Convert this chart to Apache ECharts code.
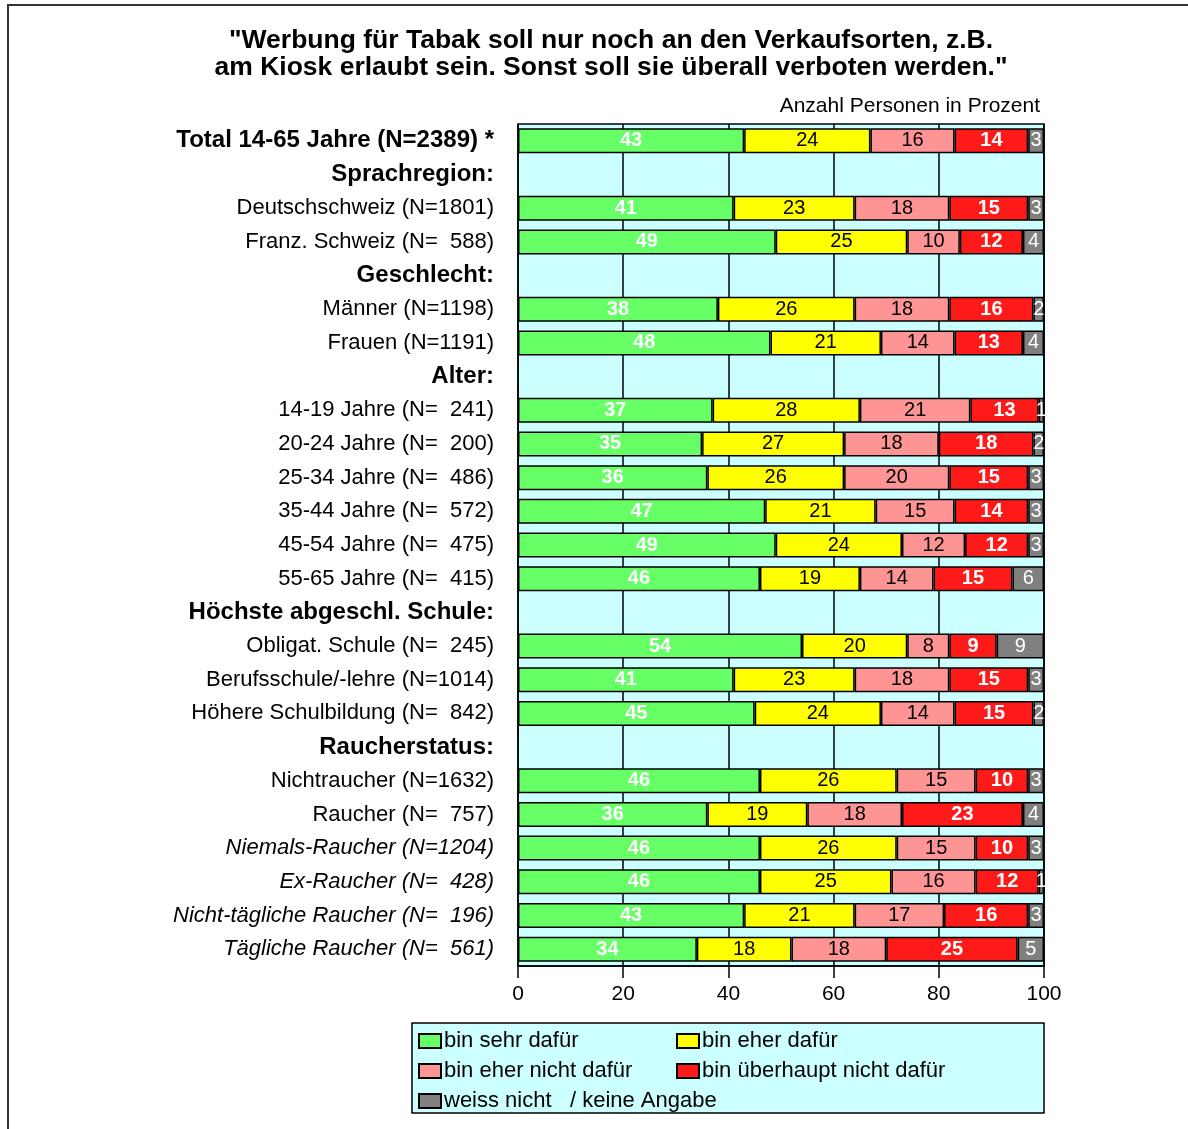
<!DOCTYPE html>
<html>
<head>
<meta charset="utf-8">
<script src="https://cdn.jsdelivr.net/npm/echarts@6/dist/echarts.min.js"></script>
<style>
html,body{margin:0;padding:0;background:#fff;}
#chart{width:1188px;height:1129px;}
</style>
</head>
<body>
<div id="chart"></div>
<script>
// Categories (type: 'b' bold/header, 'n' normal, 'i' italic)
const categories = [
  "Total 14-65 Jahre (N=2389) *",
  "Sprachregion:",
  "Deutschschweiz (N=1801)",
  "Franz. Schweiz (N=  588)",
  "Geschlecht:",
  "Männer (N=1198)",
  "Frauen (N=1191)",
  "Alter:",
  "14-19 Jahre (N=  241)",
  "20-24 Jahre (N=  200)",
  "25-34 Jahre (N=  486)",
  "35-44 Jahre (N=  572)",
  "45-54 Jahre (N=  475)",
  "55-65 Jahre (N=  415)",
  "Höchste abgeschl. Schule:",
  "Obligat. Schule (N=  245)",
  "Berufsschule/-lehre (N=1014)",
  "Höhere Schulbildung (N=  842)",
  "Raucherstatus:",
  "Nichtraucher (N=1632)",
  "Raucher (N=  757)",
  "Niemals-Raucher (N=1204)",
  "Ex-Raucher (N=  428)",
  "Nicht-tägliche Raucher (N=  196)",
  "Tägliche Raucher (N=  561)"
];
const categoryStyles = ["b","b","n","n","b","n","n","b","n","n","n","n","n","n","b","n","n","n","b","n","n","i","i","i","i"];

const seriesNames = ["bin sehr dafür","bin eher dafür","bin eher nicht dafür","bin überhaupt nicht dafür","weiss nicht   / keine Angabe"];

const sehrDafuer      = [43,'-',41,49,'-',38,48,'-',37,35,36,47,49,46,'-',54,41,45,'-',46,36,46,46,43,34];
const eherDafuer      = [24,'-',23,25,'-',26,21,'-',28,27,26,21,24,19,'-',20,23,24,'-',26,19,26,25,21,18];
const eherNichtDafuer = [16,'-',18,10,'-',18,14,'-',21,18,20,15,12,14,'-', 8,18,14,'-',15,18,15,16,17,18];
const ueberhauptNicht = [14,'-',15,12,'-',16,13,'-',13,18,15,14,12,15,'-', 9,15,15,'-',10,23,10,12,16,25];
const weissNicht      = [ 3,'-', 3, 4,'-', 2, 4,'-', 1, 2, 3, 3, 3, 6,'-', 9, 3, 2,'-', 3, 4, 3, 1, 3, 5];

const xTicks = [0,20,40,60,80,100];

const colors = ["#66ff66","#ffff00","#ff9494","#ff1a1a","#808080"];
const labelColors = ["#ffffff","#000000","#000000","#ffffff","#ffffff"];
const labelWeights = ["bold","normal","normal","bold","normal"];
const allData = [sehrDafuer, eherDafuer, eherNichtDafuer, ueberhauptNicht, weissNicht];

const FONT = '"Liberation Sans", Arial, sans-serif';

const chart = echarts.init(document.getElementById('chart'), null, {renderer:'canvas'});

const series = allData.map((d,i)=>({
  name: seriesNames[i],
  type: 'bar',
  stack: 'total',
  barWidth: 25,
  data: d,
  itemStyle: {color: colors[i], borderColor:'#000', borderWidth:1.5},
  label: {
    show: true,
    position: 'inside',
    color: labelColors[i],
    fontWeight: labelWeights[i],
    fontSize: 20,
    fontFamily: FONT
  },
  emphasis: {disabled: true}
}));

const legendPos = [[418,1030],[676,1030],[418,1060],[676,1060],[418,1090]];
const legends = seriesNames.map((n,i)=>({
  data:[n],
  left: legendPos[i][0],
  top: legendPos[i][1],
  icon: 'rect',
  itemWidth: 22,
  itemHeight: 14,
  itemGap: 0,
  padding: 0,
  selectedMode: false,
  textStyle: {fontSize: 22, color:'#000', fontFamily: FONT, padding:[0,0,0,-2]}
}));

chart.setOption({
  animation: false,
  backgroundColor: '#ffffff',
  textStyle: {fontFamily: FONT},
  title: {
    text: '"Werbung für Tabak soll nur noch an den Verkaufsorten, z.B.\nam Kiosk erlaubt sein. Sonst soll sie überall verboten werden."',
    left: 606,
    textAlign: 'center',
    top: 22,
    textStyle: {fontSize: 26.5, fontWeight: 'bold', color: '#000', lineHeight: 27, fontFamily: FONT}
  },
  graphic: [
    {type:'rect', shape:{x:8,y:5,width:1200,height:1200}, style:{fill:'none', stroke:'#333', lineWidth:2}, z:-10},
    {type:'rect', shape:{x:412,y:1023,width:632,height:90}, style:{fill:'#ccffff', stroke:'#000', lineWidth:1.5}, z:-5},
    {type:'text', right: 148, top: 96, style:{text:'Anzahl Personen in Prozent', fill:'#000', font:'21px "Liberation Sans", Arial, sans-serif'}}
  ],
  legend: legends,
  grid: {
    left: 518, right: 144, top: 124, bottom: 163,
    show: true, backgroundColor: '#ccffff', borderColor: '#000', borderWidth: 1.5
  },
  xAxis: {
    type: 'value',
    min: 0, max: 100, interval: 20,
    axisLine: {show: true, lineStyle: {color:'#000', width:1.5}},
    axisTick: {show: true, length: 12, lineStyle: {color:'#000', width:1.5}},
    axisLabel: {fontSize: 21, color:'#000', margin: 18, fontFamily: FONT,
      formatter: v => xTicks.includes(v) ? String(v) : ''},
    splitLine: {show: true, lineStyle: {color:'#000', width:1.5}}
  },
  yAxis: {
    type: 'category',
    data: categories,
    inverse: true,
    axisLine: {show: false},
    axisTick: {show: false},
    axisLabel: {
      margin: 24,
      fontSize: 22,
      color: '#000',
      fontFamily: FONT,
      formatter: (v, idx) => '{' + categoryStyles[idx] + '|' + v + '}',
      rich: {
        b: {fontSize: 24, fontWeight: 'bold', color:'#000', fontFamily: FONT},
        n: {fontSize: 22, color:'#000', fontFamily: FONT},
        i: {fontSize: 22, fontStyle: 'italic', color:'#000', fontFamily: FONT}
      }
    }
  },
  series: series
});
</script>
</body>
</html>
